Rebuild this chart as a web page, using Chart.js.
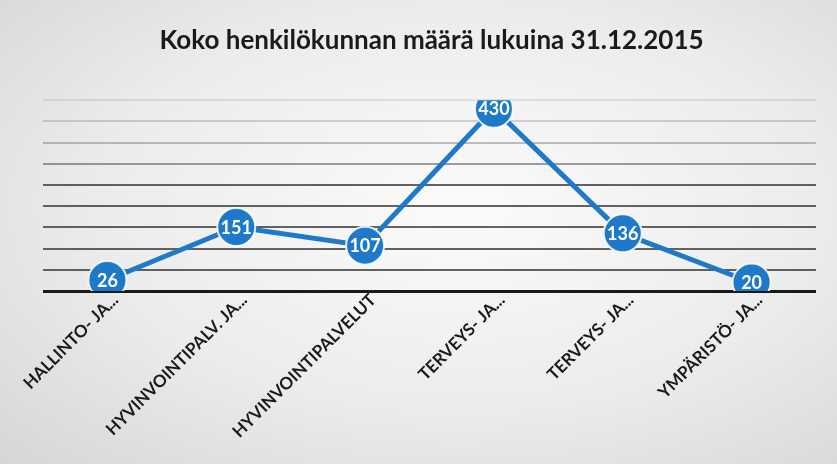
<!DOCTYPE html>
<html>
<head>
<meta charset="utf-8">
<script src="https://cdn.jsdelivr.net/npm/chart.js@4/dist/chart.umd.min.js"></script>
<style>
  html, body { margin: 0; padding: 0; }
  body {
    width: 837px; height: 464px; overflow: hidden;
    background: radial-gradient(ellipse at 55% 45%, #fbfbfb 0%, #ececec 55%, #d6d6d6 100%);
  }
  #wrap { position: relative; width: 837px; height: 464px; }
</style>
</head>
<body>
<div id="wrap"><canvas id="chart" width="837" height="464"></canvas></div>
<script>
const categories = ["HALLINTO- JA...", "HYVINVOINTIPALV. JA...", "HYVINVOINTIPALVELUT", "TERVEYS- JA...", "TERVEYS- JA...", "YMPÄRISTÖ- JA..."];
const staffCounts = [26, 151, 107, 430, 136, 20];
const chartTitle = "Koko henkilökunnan määrä lukuina 31.12.2015";

const blue = "rgb(30, 122, 200)";

// draws the value inside each marker
const pointValues = {
	id: "pointValues",
	afterDatasetsDraw(chart)
	{
		const ctx = chart.ctx;
		const meta = chart.getDatasetMeta(0);
		ctx.save();
		ctx.font = "bold 18px Lato";
		ctx.fillStyle = "#ffffff";
		ctx.textAlign = "center";
		ctx.textBaseline = "middle";
		meta.data.forEach((pt, i) => ctx.fillText(String(staffCounts[i]), pt.x, pt.y + 1));
		ctx.restore();
	}
};

function GridColor(value)
{
	if (value === 0) return "#1a1a1a";
	if (value >= 450) return "rgba(140,140,140,0.2)";
	if (value >= 400) return "rgba(120,120,120,0.3)";
	if (value >= 350) return "rgba(100,100,100,0.4)";
	if (value >= 300) return "rgba(80,80,80,0.55)";
	return "rgba(60,60,60,0.8)";
}

new Chart(document.getElementById("chart"), {
	type: "line",
	data: {
		labels: categories,
		datasets: [{
			data: staffCounts,
			borderColor: blue,
			borderWidth: 5,
			pointRadius: 19,
			pointHoverRadius: 19,
			pointBackgroundColor: blue,
			pointBorderColor: "rgba(255,255,255,0.85)",
			pointBorderWidth: 2,
			tension: 0
		}]
	},
	options: {
		responsive: false,
		animation: false,
		layout: { padding: { left: 43, right: 17, bottom: 0 } },
		plugins: {
			legend: { display: false },
			tooltip: { enabled: false },
			title: {
				display: true,
				text: chartTitle,
				color: "#1a1a1a",
				font: { family: "Lato", size: 26, weight: "bold" },
				padding: { top: 25, bottom: 44 }
			}
		},
		scales: {
			x: {
				offset: true,
				grid: { display: false },
				border: { display: false },
				ticks: {
					color: "#1a1a1a",
					font: { family: "Lato", size: 17, weight: "bold" },
					maxRotation: 45,
					minRotation: 45,
					autoSkip: false,
					labelOffset: 8,
					padding: -9
				},
				afterFit(scale) { scale.height = 173; }
			},
			y: {
				min: 0,
				max: 450,
				ticks: { display: false, stepSize: 50 },
				border: { display: false },
				grid: {
					drawTicks: false,
					color: c => GridColor(c.tick.value),
					lineWidth: c => c.tick.value === 0 ? 3 : 2
				}
			}
		}
	},
	plugins: [pointValues]
});
</script>
</body>
</html>
